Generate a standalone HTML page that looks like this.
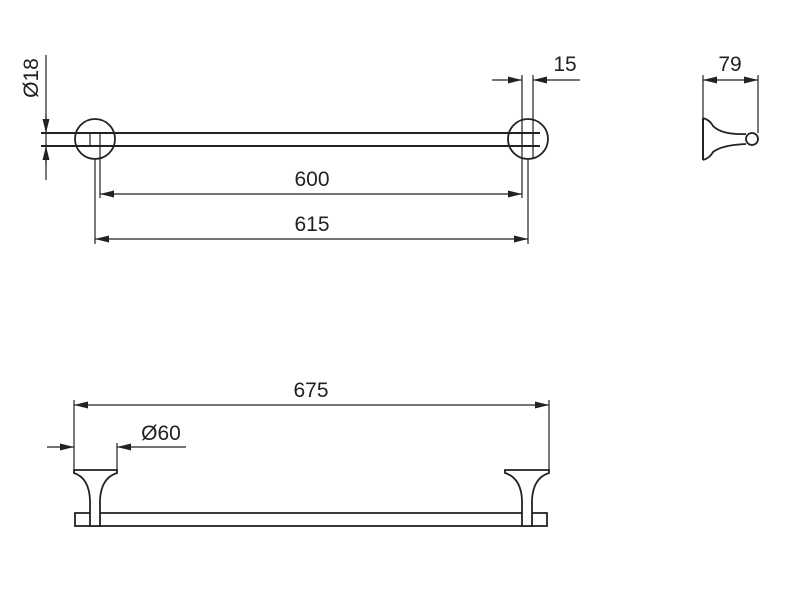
<!DOCTYPE html>
<html><head><style>body{margin:0;background:#fff}svg{display:block}text{font-family:"Liberation Sans",sans-serif;font-size:21px;fill:#222}</style></head>
<body>
<svg width="800" height="600" viewBox="0 0 800 600">
<defs>
<marker id="a" viewBox="0 0 14 7" refX="14" refY="3.5" markerWidth="14" markerHeight="7" markerUnits="userSpaceOnUse" orient="auto" preserveAspectRatio="none"><path d="M0,0L14,3.5L0,7z" fill="#222"/></marker>
</defs>
<g stroke="#222" fill="none" stroke-width="1.2">
<line x1="41" y1="133" x2="540" y2="133" stroke-width="2"/>
<line x1="41" y1="146" x2="540" y2="146" stroke-width="2"/>
<circle cx="95" cy="139" r="20" stroke-width="1.8" fill="none"/>
<circle cx="528" cy="139" r="20" stroke-width="1.8"/>
<line x1="90" y1="133" x2="90" y2="146"/><line x1="100" y1="133" x2="100" y2="146"/>
<line x1="522" y1="133" x2="522" y2="146"/><line x1="533" y1="133" x2="533" y2="146"/>
<line x1="46" y1="55" x2="46" y2="180"/>
<line x1="46" y1="115" x2="46" y2="133" marker-end="url(#a)"/>
<line x1="46" y1="165" x2="46" y2="146" marker-end="url(#a)"/>
<line x1="100" y1="146" x2="100" y2="198"/>
<line x1="95" y1="159" x2="95" y2="244"/>
<line x1="522" y1="75" x2="522" y2="198"/>
<line x1="533" y1="75" x2="533" y2="159"/>
<line x1="528" y1="159" x2="528" y2="244"/>
<line x1="311" y1="194" x2="100" y2="194" marker-end="url(#a)"/>
<line x1="311" y1="194" x2="522" y2="194" marker-end="url(#a)"/>
<line x1="311" y1="239" x2="95" y2="239" marker-end="url(#a)"/>
<line x1="311" y1="239" x2="528" y2="239" marker-end="url(#a)"/>
<line x1="492" y1="80" x2="522" y2="80" marker-end="url(#a)"/>
<line x1="580" y1="80" x2="533" y2="80" marker-end="url(#a)"/>
<line x1="703" y1="75" x2="703" y2="118"/>
<line x1="758" y1="75" x2="758" y2="133"/>
<line x1="730" y1="80" x2="703" y2="80" marker-end="url(#a)"/>
<line x1="730" y1="80" x2="758" y2="80" marker-end="url(#a)"/>
<path d="M703,118 L703,160" stroke-width="2"/>
<path d="M703,118 Q710,120 713,126 Q722,135 746,134 M703,160 Q710,158 713,152 Q722,145 746,144" stroke-width="1.8"/>
<circle cx="752" cy="139" r="6" stroke-width="1.8"/>
<line x1="74" y1="400" x2="74" y2="470"/>
<line x1="549" y1="400" x2="549" y2="470"/>
<line x1="311" y1="405" x2="74" y2="405" marker-end="url(#a)"/>
<line x1="311" y1="405" x2="549" y2="405" marker-end="url(#a)"/>
<line x1="117" y1="443" x2="117" y2="470"/>
<line x1="47" y1="447" x2="74" y2="447" marker-end="url(#a)"/>
<line x1="186" y1="447" x2="117" y2="447" marker-end="url(#a)"/>
<rect x="75" y="513" width="472" height="13" stroke-width="1.8"/>
<path d="M74,470 L117,470 L117,473 Q101,478 100,500 L100,526 L90,526 L90,500 Q89,478 74,473 Z" fill="#fff" stroke-width="1.8"/>
<path d="M505,470 L549,470 L549,473 Q533,478 532,500 L532,526 L522,526 L522,500 Q521,478 505,473 Z" fill="#fff" stroke-width="1.8"/>
</g>
<text x="312" y="186" text-anchor="middle">600</text>
<text x="312" y="231" text-anchor="middle">615</text>
<text x="565" y="71" text-anchor="middle">15</text>
<text x="730" y="71" text-anchor="middle">79</text>
<text x="311" y="397" text-anchor="middle">675</text>
<text x="161" y="440" text-anchor="middle">Ø60</text>
<text transform="translate(38,78) rotate(-90)" text-anchor="middle">Ø18</text>
</svg>
</body></html>
